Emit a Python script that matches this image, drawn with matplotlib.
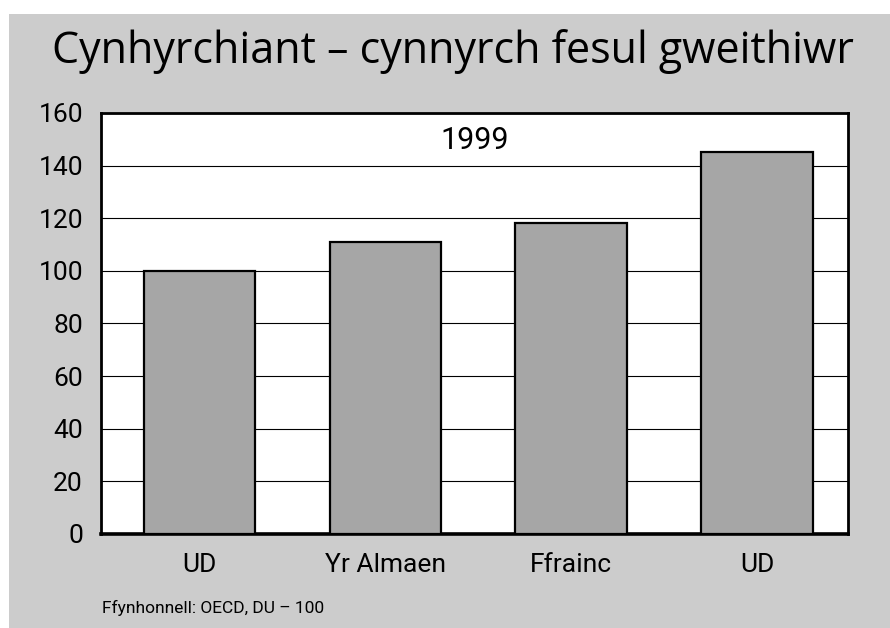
import matplotlib.pyplot as plt
from matplotlib.patches import Rectangle

countries = ['UD', 'Yr Almaen', 'Ffrainc', 'UD']
values = [100, 111, 118, 145]
yticks = [0, 20, 40, 60, 80, 100, 120, 140, 160]

plt.rcParams['font.family'] = ['Liberation Sans Narrow', 'Roboto', 'DejaVu Sans']

fig = plt.figure(figsize=(8.9, 6.28), dpi=100, facecolor='white')
# grey panel behind everything
bg = Rectangle((9 / 890, 0), 1 - 9 / 890, 1 - 14 / 628,
               transform=fig.transFigure, facecolor='#cccccc',
               edgecolor='none', zorder=-5)
fig.add_artist(bg)

ax = fig.add_axes([0.1135, 0.1497, 0.8393, 0.6704])
ax.set_zorder(2)
ax.set_facecolor('white')
x = range(len(countries))
ax.bar(x, values, width=0.6, color='#a6a6a6', edgecolor='black',
       linewidth=1.6, zorder=3)

ax.set_ylim(0, 160)
ax.set_xlim(-0.53, 3.49)
ax.set_yticks(yticks)
ax.set_xticks(list(x))
ax.set_xticklabels(countries)
ax.yaxis.grid(True, color='black', linewidth=0.8, zorder=1)
ax.set_axisbelow(True)
ax.tick_params(length=0, labelsize=19)
ax.tick_params(axis='y', pad=13)
ax.tick_params(axis='x', pad=14)
for s in ['top', 'right', 'left']:
    ax.spines[s].set_linewidth(2.0)
ax.spines['bottom'].set_linewidth(2.6)

ax.text(0.5, 0.935, '1999', transform=ax.transAxes, ha='center', va='center',
        fontsize=22)

fig.text(0.509, 0.918, 'Cynhyrchiant – cynnyrch fesul gweithiwr',
         ha='center', va='center', fontsize=31,
         family=['Open Sans', 'DejaVu Sans'])
fig.text(102 / 890, 1 - 608 / 628, 'Ffynhonnell: OECD, DU – 100',
         ha='left', va='center', fontsize=12.5)

fig.savefig('out.png', dpi=100, facecolor='white')
